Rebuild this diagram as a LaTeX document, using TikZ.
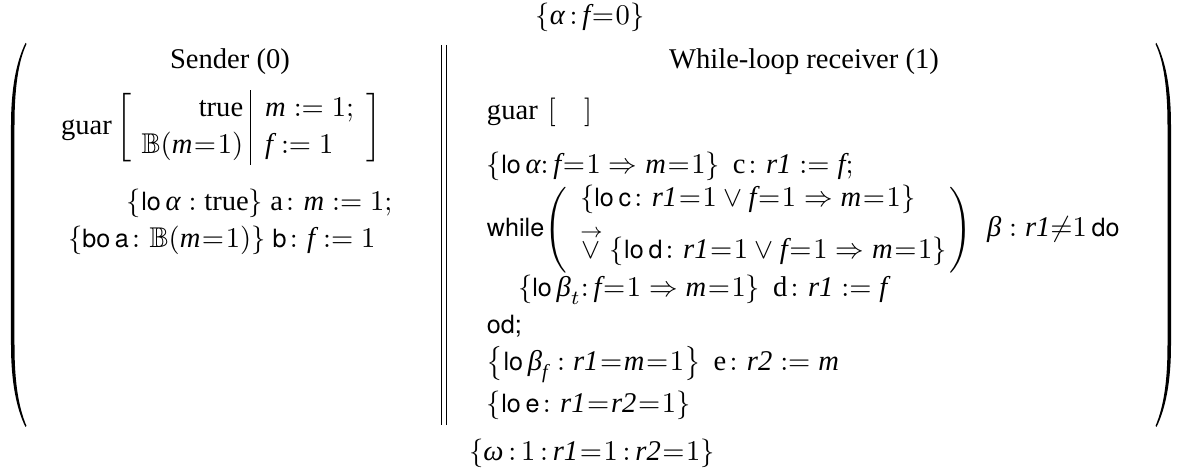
\documentclass[tikz,border=0pt]{standalone}
\usepackage{amsmath,amssymb}
\usepackage{fontspec}
\setmainfont{Liberation Serif}
\setsansfont{TeX Gyre Heros}[Scale=0.88]
\newcommand{\tsf}[1]{\textsf{#1}}
\newcommand{\lo}{\textsf{lo}\,}
\newcommand{\bo}{\textsf{bo}\,}
\newcommand{\ri}{\textit{r1}}
\newcommand{\rii}{\textit{r2}}
\newcommand{\vm}{\textit{m}}
\newcommand{\vf}{\textit{f}}
\newcommand{\ga}{\textit{α}}
\newcommand{\gb}{\textit{β}}
\newcommand{\gw}{\textit{ω}}
\newcommand{\asg}{\mathrel{:=}}
\newcommand{\eq}{\mkern1mu{=}\mkern1mu}
\newcommand{\cl}{\mkern3mu{:}\mkern3mu}
\newcommand{\gap}{\hspace{4.5pt}}
\tikzset{
  lbl/.style={inner sep=0pt, outer sep=0pt, anchor=base west},
  ctr/.style={inner sep=0pt, outer sep=0pt, anchor=base},
  dlm/.style={inner sep=0pt, outer sep=0pt, anchor=center},
  bar/.style={line width=0.4pt}
}
\begin{document}
\begin{tikzpicture}[x=0.35pt,y=-0.35pt]
\useasboundingbox (0,0) rectangle (1179,474);
% pre / post conditions
\node[ctr] (pre) at (590,25) {$\{\ga\cl\vf\eq0\}$};
\node[ctr] (post) at (592,461) {$\{\gw\cl1\cl\ri\eq1\cl\rii\eq1\}$};
% outer parentheses
\fill (25.5,43) .. controls (16,62) and (11,90) .. (11,125) -- (11,345) .. controls (11,380) and (16,408) .. (25.5,427) -- (26.5,426) .. controls (18,406) and (14.5,380) .. (14.5,345) -- (14.5,125) .. controls (14.5,90) and (18,62) .. (26.5,44) -- cycle;
\fill (1156.5,43) .. controls (1166,62) and (1171,90) .. (1171,125) -- (1171,345) .. controls (1171,380) and (1166,408) .. (1156.5,427) -- (1155.5,426) .. controls (1164,406) and (1167.5,380) .. (1167.5,345) -- (1167.5,125) .. controls (1167.5,90) and (1164,62) .. (1155.5,44) -- cycle;
% parallel bars
\draw[bar] (441.7,45) -- (441.7,425);
\draw[bar] (446.7,45) -- (446.7,425);
% sender
\node[ctr] (s) at (230,69) {Sender (0)};
\node[dlm, anchor=west] (sg) at (61,127.5) {\renewcommand{\arraystretch}{1.08}$\text{guar}\left[\begin{array}{@{\hspace{3.5pt}}r@{\hspace{2.5pt}}|@{\hspace{5pt}}l@{\hspace{4.5pt}}} \text{true} & \vm \asg 1;\\ \mathbb{B}(\vm\eq1) & \vf \asg 1\end{array}\right]$};
\node[lbl] (a) at (127,211) {$\{\lo\ga: \text{true}\}\ \text{a}\colon \vm \asg 1;$};
\node[lbl] (b) at (68,248) {$\{\bo\tsf{a}\colon \mathbb{B}(\vm\eq1)\}\ \tsf{b}\colon \vf \asg 1$};
% receiver
\node[ctr] (r) at (804,69) {While-loop receiver (1)};
\node[lbl] (rg) at (487,120) {$\text{guar}\hspace{3.5pt}[\hspace{10pt}]$};
\node[lbl] (c) at (487,174) {$\{\lo\ga{:}\,\vf\eq1\Rightarrow \vm\eq1\}\gap\text{c}\colon \ri \asg \vf;$};
\node[lbl] (wh) at (487,237) {\textsf{while}};
\node[dlm] (lp) at (556,230) {$\Biggl($};
\node[lbl] (w1) at (580,207) {$\{\lo\tsf{c}\colon \ri\eq1\vee \vf\eq1\Rightarrow \vm\eq1\}$};
\node[lbl] (w2) at (580,259) {$\overset{\rightarrow}{\vee}\ \{\lo\tsf{d}\colon \ri\eq1\vee \vf\eq1\Rightarrow \vm\eq1\}$};
\node[dlm] (rp) at (961,230) {$\Biggr)$};
\node[lbl] (bt) at (987,237) {$\gb : \ri{\neq}1\,\textsf{do}$};
\node[lbl] (d) at (518,297) {$\{\lo\gb_t{:}\,\vf\eq1\Rightarrow \vm\eq1\}\gap\text{d}\colon \ri \asg \vf$};
\node[lbl] (od) at (487,334) {\textsf{od;}};
\node[lbl] (e) at (487,371) {$\bigl\{\lo\gb_{\textit{f}} : \ri\eq\vm\eq1\bigr\}\gap\text{e}\colon \rii \asg \vm$};
\node[lbl] (le) at (487,413) {$\{\lo\tsf{e}\colon \ri\eq\rii\eq1\}$};
\end{tikzpicture}
\end{document}
